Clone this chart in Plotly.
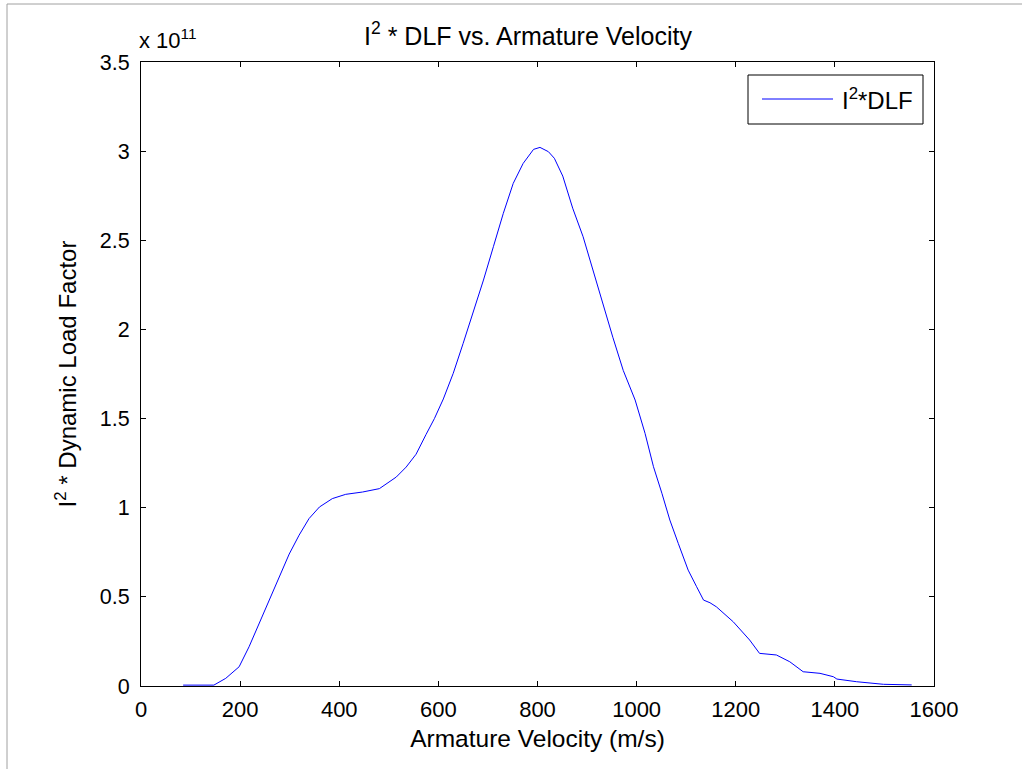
import plotly.graph_objects as go

# Armature velocity (m/s)
velocity = [85, 147, 171, 198, 218, 238, 259, 279, 299, 319, 339, 360, 386, 413,
            447, 481, 515, 535, 555, 575, 592, 610, 630, 650, 670, 691, 711, 731,
            751, 771, 792, 805, 822, 834, 851, 871, 892, 912, 932, 952, 973, 997,
            1017, 1034, 1051, 1067, 1084, 1104, 1121, 1135, 1148, 1161, 1195, 1228,
            1248, 1282, 1309, 1336, 1370, 1397, 1404, 1444, 1498, 1555]
# I^2 * DLF in units of 1e11
i2dlf_e11 = [0.005, 0.005, 0.043, 0.108, 0.22, 0.35, 0.48, 0.61, 0.74, 0.846,
             0.939, 1.004, 1.051, 1.075, 1.088, 1.107, 1.172, 1.228, 1.30, 1.41,
             1.50, 1.61, 1.754, 1.922, 2.09, 2.277, 2.464, 2.651, 2.819, 2.931,
             3.01, 3.021, 2.997, 2.96, 2.86, 2.68, 2.52, 2.33, 2.14, 1.956, 1.77,
             1.604, 1.417, 1.23, 1.081, 0.931, 0.8, 0.65, 0.557, 0.482, 0.467,
             0.444, 0.36, 0.258, 0.183, 0.174, 0.136, 0.08, 0.071, 0.052, 0.039,
             0.024, 0.0095, 0.006]

x_ticks = [0, 200, 400, 600, 800, 1000, 1200, 1400, 1600]
y_ticks = [0, 0.5, 1, 1.5, 2, 2.5, 3, 3.5]
y_tick_labels = ["0", "0.5", "1", "1.5", "2", "2.5", "3", "3.5"]

FONT = "Liberation Sans, Arial, sans-serif"

fig = go.Figure()
fig.add_trace(go.Scatter(x=velocity, y=i2dlf_e11, mode="lines",
                         line=dict(color="#0000ff", width=1),
                         name="I<sup>2</sup>*DLF", showlegend=False))

axis_common = dict(showgrid=False, zeroline=False, showline=True, linecolor="black",
                   linewidth=1, mirror="ticks", ticks="inside", ticklen=5,
                   tickcolor="black", automargin=False)

fig.update_xaxes(range=[0, 1600], tickvals=x_ticks, ticklabelstandoff=4, **axis_common,
                 tickfont=dict(family=FONT, size=22, color="black"),
                 title=dict(text="Armature Velocity (m/s)", standoff=8,
                            font=dict(family=FONT, size=24.5, color="black")))
fig.update_yaxes(range=[0, 3.5], tickvals=y_ticks, ticktext=y_tick_labels,
                 ticklabelstandoff=6, **axis_common,
                 tickfont=dict(family=FONT, size=21.5, color="black"),
                 title=dict(text="I<sup>2</sup> * Dynamic Load Factor", standoff=16,
                            font=dict(family=FONT, size=24, color="black")))

# legend drawn as box
fig.add_shape(type="rect", xref="paper", yref="paper",
              x0=(748 - 141) / 793, x1=(923 - 141) / 793,
              y0=(686 - 124) / 624, y1=(686 - 75) / 624,
              line=dict(color="black", width=1), fillcolor="white")
fig.add_shape(type="line", xref="paper", yref="paper",
              x0=(762 - 141) / 793, x1=(833 - 141) / 793,
              y0=(686 - 99) / 624, y1=(686 - 99) / 624,
              line=dict(color="#0000ff", width=1))
fig.add_annotation(xref="paper", yref="paper", x=(840 - 141) / 793, y=(686 - 99) / 624,
                   xanchor="left", yanchor="middle", showarrow=False,
                   text="I<sup>2</sup>*DLF", font=dict(family=FONT, size=24, color="black"))

# exponent label
fig.add_annotation(xref="paper", yref="paper", x=(137 - 141) / 793, y=1, yshift=7,
                   xanchor="left", yanchor="bottom", showarrow=False,
                   text="x 10<sup>11</sup>", font=dict(family=FONT, size=22, color="black"))

# window frame lines
fig.add_shape(type="line", xref="paper", yref="paper",
              x0=(7 - 141) / 793, x1=2, y0=(686 - 4) / 624, y1=(686 - 4) / 624,
              line=dict(color="#a0a0a0", width=1))
fig.add_shape(type="line", xref="paper", yref="paper",
              x0=(7 - 141) / 793, x1=(7 - 141) / 793, y0=-1, y1=(686 - 4) / 624,
              line=dict(color="#a0a0a0", width=1))

fig.update_layout(
    width=1022, height=769,
    margin=dict(l=141, r=88, t=62, b=83),
    paper_bgcolor="white", plot_bgcolor="white",
    title=dict(text="I<sup>2</sup> * DLF vs. Armature Velocity", x=528 / 1022,
               xanchor="center", y=1 - 36 / 769, yanchor="middle",
               font=dict(family=FONT, size=25, color="black")),
)

fig.write_html("out.html")
